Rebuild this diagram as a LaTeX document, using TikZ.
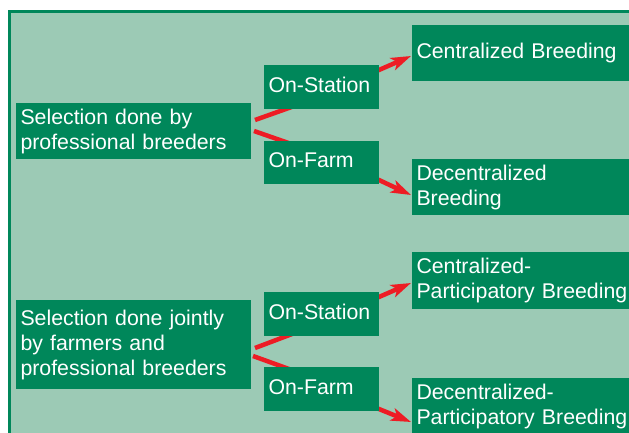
\documentclass[tikz,border=0pt]{standalone}
\usepackage{fontspec}
\setmainfont{Liberation Sans}
\usetikzlibrary{arrows.meta}
\definecolor{paneltint}{RGB}{156,202,181}
\definecolor{boxgreen}{RGB}{0,135,90}
\definecolor{linkred}{RGB}{237,28,36}
\pgfdeclarelayer{backdrop}
\pgfdeclarelayer{links}
\pgfsetlayers{backdrop,links,main}
\begin{document}
\begin{tikzpicture}[x=1pt,y=-1pt,
  box/.style={fill=boxgreen, text=white, anchor=north west, align=left,
    inner xsep=4.5pt, inner ysep=0pt, outer sep=0pt,
    font=\fontsize{21.3}{25}\selectfont,
    execute at end node={\vphantom{g}}},
  sourcebox/.style={box, text width=226pt, minimum height=#1},
  sitebox/.style={box, text width=106pt, minimum height=#1},
  schemebox/.style={box, text width=216pt, minimum height=#1},
  link/.style={linkred, line width=4.5pt},
  arrowlink/.style={link, -{Stealth[length=20pt,width=13pt,inset=5pt]}}]

\clip (0,0) rectangle (629,433);

% panel
\begin{pgfonlayer}{backdrop}
  \fill[white] (0,0) rectangle (629,433);
  \draw[boxgreen, line width=2.4pt, fill=paneltint] (9.5,11.5) rectangle (660,460);
\end{pgfonlayer}

% upper group
\node[sourcebox=56pt] (sel1) at (16,103) {Selection done by\\professional breeders};
\node[sitebox=44pt] (onst1) at (264,65) {On-Station};
\node[sitebox=43pt] (onfa1) at (264,141) {On-Farm};
\node[schemebox=56pt] (cen) at (412,25) {Centralized Breeding};
\node[schemebox=56pt] (dec) at (412,159) {Decentralized\\Breeding};

% lower group
\node[sourcebox=89pt] (sel2) at (16,300) {Selection done jointly\\by farmers and\\professional breeders};
\node[sitebox=44pt] (onst2) at (264,292) {On-Station};
\node[sitebox=44pt] (onfa2) at (264,367) {On-Farm};
\node[schemebox=57pt] (cp) at (412,252) {Centralized-\\Participatory Breeding};
\node[schemebox=57pt] (dp) at (412,378) {Decentralized-\\Participatory Breeding};

% connectors run behind the boxes
\begin{pgfonlayer}{links}
  \draw[link] ([shift={(4,-11)}]sel1.east) -- ([shift={(36,-5)}]onst1.south west);
  \draw[link] ([shift={(3,0)}]sel1.east) -- ([shift={(36,6)}]onfa1.north west);
  \draw[arrowlink] ([shift={(-19,13.3)}]onst1.north east) -- ([shift={(-1,31)}]cen.north west);
  \draw[arrowlink] ([shift={(-19,-12.9)}]onfa1.south east) -- ([shift={(-1,36)}]dec.north west);

  \draw[link] ([shift={(4,3.5)}]sel2.east) -- ([shift={(36,-5)}]onst2.south west);
  \draw[link] ([shift={(2,11.5)}]sel2.east) -- ([shift={(36,6)}]onfa2.north west);
  \draw[arrowlink] ([shift={(-19,13.3)}]onst2.north east) -- ([shift={(-1,31)}]cp.north west);
  \draw[arrowlink] ([shift={(-19,-9.7)}]onfa2.south east) -- ([shift={(-1,44)}]dp.north west);
\end{pgfonlayer}
\end{tikzpicture}
\end{document}
